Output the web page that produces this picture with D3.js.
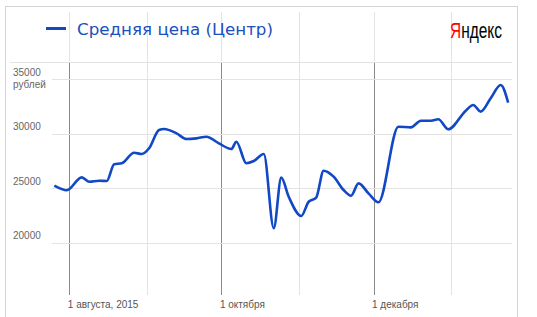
<!DOCTYPE html>
<html>
<head>
<meta charset="utf-8">
<script src="https://cdn.jsdelivr.net/npm/d3@7"></script>
<style>
  html, body { margin: 0; padding: 0; background: #fff; }
  svg { display: block; }
</style>
</head>
<body>
<div id="chart"></div>
<script>
// Series: average price (centre), date -> rubles
const dates = [
  '2015-07-26', '2015-07-31', '2015-08-06', '2015-08-09', '2015-08-13', '2015-08-16',
  '2015-08-19', '2015-08-22', '2015-08-27', '2015-08-30', '2015-09-02', '2015-09-06',
  '2015-09-08', '2015-09-13', '2015-09-17', '2015-09-21', '2015-09-25', '2015-09-30',
  '2015-10-05', '2015-10-07', '2015-10-11', '2015-10-14', '2015-10-18', '2015-10-22',
  '2015-10-25', '2015-10-28', '2015-11-02', '2015-11-05', '2015-11-08', '2015-11-11',
  '2015-11-15', '2015-11-19', '2015-11-22', '2015-11-25', '2015-11-29', '2015-12-03',
  '2015-12-11', '2015-12-16', '2015-12-20', '2015-12-24', '2015-12-27', '2015-12-31',
  '2016-01-07', '2016-01-10', '2016-01-13', '2016-01-17', '2016-01-21', '2016-01-24'
];
const prices = [
  25230, 24810, 26000, 25600, 25690, 25660,
  27200, 27290, 28260, 28140, 28670, 30350,
  30440, 30040, 29520, 29580, 29730, 29120,
  28600, 29270, 27290, 27500, 28140, 21320,
  25970, 24220, 22450, 23760, 24130, 26610,
  26060, 24840, 24310, 25450, 24530, 23710,
  30650, 30590, 31200, 31200, 31330, 30410,
  32120, 32640, 32030, 33260, 34480, 32850
];
const seriesName = 'Средняя цена (Центр)';
const yTicks = [35000, 30000, 25000, 20000];
const monthTicks = ['2015-08-01', '2015-09-01', '2015-10-01', '2015-11-01', '2015-12-01', '2016-01-01'];
const monthLabels = ['1 августа, 2015', '', '1 октября', '', '1 декабря', ''];
const unitLabel = 'рублей';
const logoText = 'Яндекс';

const parse = d3.timeParse('%Y-%m-%d');
const data = dates.map((d, i) => ({ date: parse(d), price: prices[i] }));

const svgWidth = 537, svgHeight = 317;
const frame = { left: 5, top: 6, right: 517 };
const plot = { left: 52, right: 512, top: 63, bottom: 295 };

const svg = d3.select('#chart')
  .append('svg')
  .attr('width', svgWidth)
  .attr('height', svgHeight);

// Scales
const xScale = d3.scaleTime()
  .domain([parse('2015-08-01'), parse('2016-01-01')])
  .range([69.3, 450.8]);

const yScale = d3.scaleLinear()
  .domain([20000, 35000])
  .range([242.7, 79.3]);

// Outer frame
svg.append('rect')
  .attr('x', frame.left + 0.5)
  .attr('y', frame.top + 0.5)
  .attr('width', frame.right - frame.left)
  .attr('height', svgHeight + 10)
  .attr('fill', 'none')
  .attr('stroke', '#d4d4d4');

// Month lines: light over the legend band, darker for every second month
const months = monthTicks.map(parse);
svg.append('g')
  .selectAll('line')
  .data(months)
  .join('line')
  .attr('x1', d => Math.round(xScale(d)) + 0.5)
  .attr('x2', d => Math.round(xScale(d)) + 0.5)
  .attr('y1', 12)
  .attr('y2', plot.bottom)
  .attr('stroke', '#e3e3e3');

svg.append('g')
  .selectAll('line')
  .data(months.filter((d, i) => i % 2 === 0))
  .join('line')
  .attr('x1', d => Math.round(xScale(d)) + 0.5)
  .attr('x2', d => Math.round(xScale(d)) + 0.5)
  .attr('y1', plot.top)
  .attr('y2', plot.bottom)
  .attr('stroke', '#8c8c8c');

// Separator under legend
svg.append('line')
  .attr('x1', 10)
  .attr('x2', plot.right)
  .attr('y1', 62.5)
  .attr('y2', 62.5)
  .attr('stroke', '#e3e3e3');

// Horizontal grid
svg.append('g')
  .selectAll('line')
  .data(yTicks)
  .join('line')
  .attr('x1', plot.left)
  .attr('x2', plot.right)
  .attr('y1', d => Math.round(yScale(d)) + 0.5)
  .attr('y2', d => Math.round(yScale(d)) + 0.5)
  .attr('stroke', '#e3e3e3');

// Y labels
svg.append('g')
  .selectAll('text')
  .data(yTicks)
  .join('text')
  .attr('x', 13)
  .attr('y', d => yScale(d) - 3.3)
  .style('font-family', '"Liberation Sans", Arial, sans-serif')
  .style('font-size', '10px')
  .style('fill', '#666')
  .text(d => d);

svg.append('text')
  .attr('x', 13)
  .attr('y', yScale(35000) + 8.5)
  .style('font-family', '"Liberation Sans", Arial, sans-serif')
  .style('font-size', '10px')
  .style('fill', '#666')
  .text(unitLabel);

// X labels
svg.append('g')
  .selectAll('text')
  .data(months)
  .join('text')
  .attr('x', d => xScale(d) - 1.5)
  .attr('y', 308)
  .style('font-family', '"Liberation Sans", Arial, sans-serif')
  .style('font-size', '10px')
  .style('fill', '#555')
  .text((d, i) => monthLabels[i]);

// Price line
const line = d3.line()
  .x(d => xScale(d.date))
  .y(d => yScale(d.price))
  .curve(d3.curveMonotoneX);

svg.append('path')
  .datum(data)
  .attr('d', line)
  .attr('fill', 'none')
  .attr('stroke', '#1048c6')
  .attr('stroke-width', 2.6)
  .attr('stroke-linejoin', 'round');

// Legend
svg.append('line')
  .attr('x1', 46)
  .attr('x2', 66)
  .attr('y1', 28.5)
  .attr('y2', 28.5)
  .attr('stroke', '#1048c6')
  .attr('stroke-width', 3);

svg.append('text')
  .attr('x', 77)
  .attr('y', 35)
  .attr('textLength', 196)
  .attr('lengthAdjust', 'spacingAndGlyphs')
  .style('font-family', '"DejaVu Sans", Verdana, sans-serif')
  .style('font-size', '16.5px')
  .style('fill', '#1a4fc0')
  .text(seriesName);

// Yandex logo: red first letter, black rest (one text, split fill)
const grad = svg.append('defs')
  .append('linearGradient')
  .attr('id', 'logo-fill')
  .attr('gradientUnits', 'userSpaceOnUse')
  .attr('x1', 450).attr('x2', 502)
  .attr('y1', 0).attr('y2', 0);
grad.append('stop').attr('offset', 0.215).attr('stop-color', '#f00');
grad.append('stop').attr('offset', 0.215).attr('stop-color', '#000');

svg.append('text')
  .attr('x', 450)
  .attr('y', 38)
  .attr('textLength', 52)
  .attr('lengthAdjust', 'spacingAndGlyphs')
  .style('font-family', '"Liberation Sans Narrow", "Liberation Sans", Arial, sans-serif')
  .style('font-size', '21.5px')
  .style('fill', 'url(#logo-fill)')
  .text(logoText);
</script>
</body>
</html>
